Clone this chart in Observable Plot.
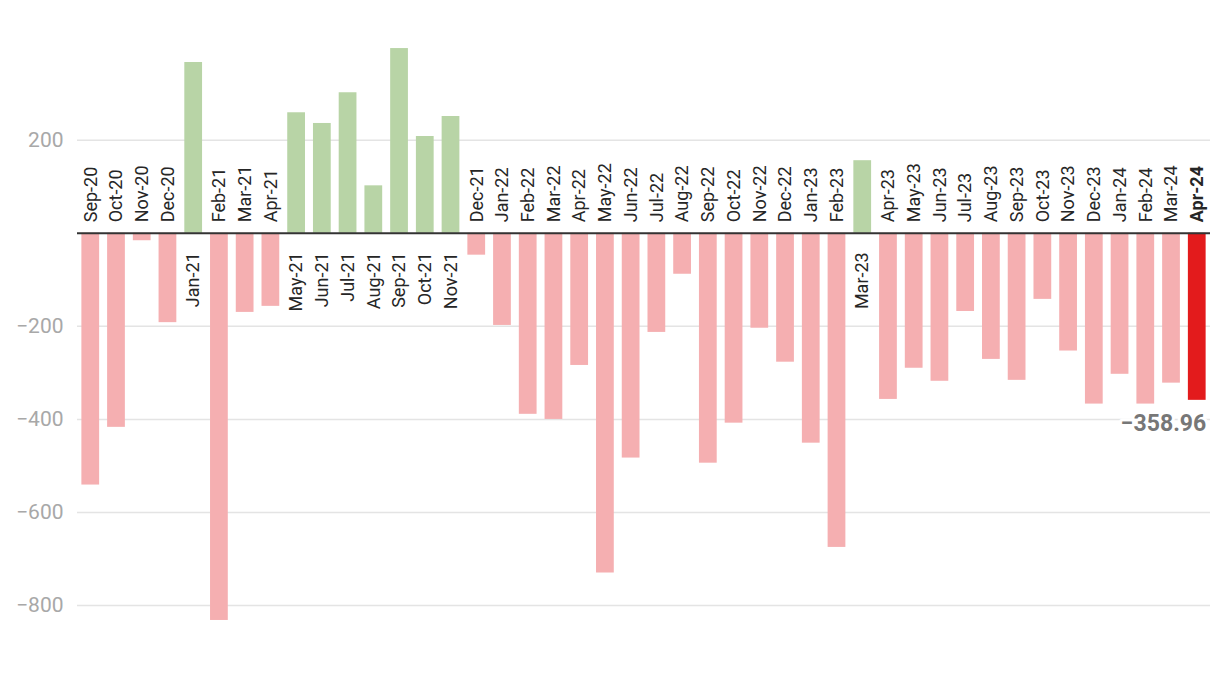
<!DOCTYPE html>
<html>
<head>
<meta charset="utf-8">
<script src="https://cdn.jsdelivr.net/npm/d3@7"></script>
<script src="https://cdn.jsdelivr.net/npm/@observablehq/plot@0.6"></script>
<style>
  html, body { margin: 0; padding: 0; background: #fff; }
  #chart svg { display: block; }
</style>
</head>
<body>
<div id="chart"></div>
<script>
const months = ["Sep-20","Oct-20","Nov-20","Dec-20","Jan-21","Feb-21","Mar-21","Apr-21","May-21","Jun-21","Jul-21","Aug-21","Sep-21","Oct-21","Nov-21","Dec-21","Jan-22","Feb-22","Mar-22","Apr-22","May-22","Jun-22","Jul-22","Aug-22","Sep-22","Oct-22","Nov-22","Dec-22","Jan-23","Feb-23","Mar-23","Apr-23","May-23","Jun-23","Jul-23","Aug-23","Sep-23","Oct-23","Nov-23","Dec-23","Jan-24","Feb-24","Mar-24","Apr-24"];
const values = [-541,-417,-16,-192,367,-832,-170,-157,259,236,302,102,397,208,251,-47,-198,-389,-400,-284,-730,-483,-213,-88,-494,-408,-204,-277,-451,-675,156,-357,-290,-318,-168,-271,-316,-142,-253,-367,-303,-367,-322,-358.96];
const yTicks = [200,-200,-400,-600,-800];
const highlight = "Apr-24";

const data = months.map((m, i) => ({month: m, value: values[i]}));
const fmt = v => (v < 0 ? "\u2212" : "") + Math.abs(v);
const colorOf = d => d.month === highlight ? "#e31b1c" : (d.value >= 0 ? "#b8d4a6" : "#f5afb1");

const neg = data.filter(d => d.value < 0);
const pos = data.filter(d => d.value >= 0);

const chart = Plot.plot({
  width: 1220,
  height: 674,
  marginTop: 42,
  marginBottom: 41,
  marginLeft: 77,
  marginRight: 10,
  style: {fontFamily: "Roboto, sans-serif", background: "#fff"},
  x: {domain: months, paddingInner: 0.31, paddingOuter: 0.17, axis: null},
  y: {domain: [-860, 410], axis: null},
  color: {type: "identity"},
  marks: [
    Plot.ruleY(yTicks, {stroke: "#e4e4e4", strokeWidth: 1.5}),
    Plot.text(yTicks, {y: d => d, text: fmt, frameAnchor: "left", textAnchor: "end", dx: -14, fill: "#a8a8a8", fontSize: 21}),
    Plot.barY(data, {x: "month", y: "value", fill: colorOf}),
    Plot.ruleY([0], {stroke: "#333", strokeWidth: 2}),
    Plot.text(neg.filter(d => d.month !== highlight), {x: "month", y: () => 0, text: "month", rotate: -90, textAnchor: "start", dy: -11, fontSize: 18, fill: "#262626"}),
    Plot.text(neg.filter(d => d.month === highlight), {x: "month", y: () => 0, text: "month", rotate: -90, textAnchor: "start", dy: -11, fontSize: 18, fontWeight: "bold", fill: "#262626"}),
    Plot.text(pos, {x: "month", y: () => 0, text: "month", rotate: -90, textAnchor: "end", dy: 19, fontSize: 18, fill: "#262626"}),
    Plot.text(data.filter(d => d.month === highlight), {x: "month", y: "value", text: d => (d.value < 0 ? "\u2212" : "") + Math.abs(d.value).toFixed(2), textAnchor: "end", lineAnchor: "top", dx: 9, dy: 14, fontSize: 23, fontWeight: "bold", fill: "#777", stroke: "#fff", strokeWidth: 6})
  ]
});
document.getElementById("chart").appendChild(chart);
</script>
</body>
</html>
